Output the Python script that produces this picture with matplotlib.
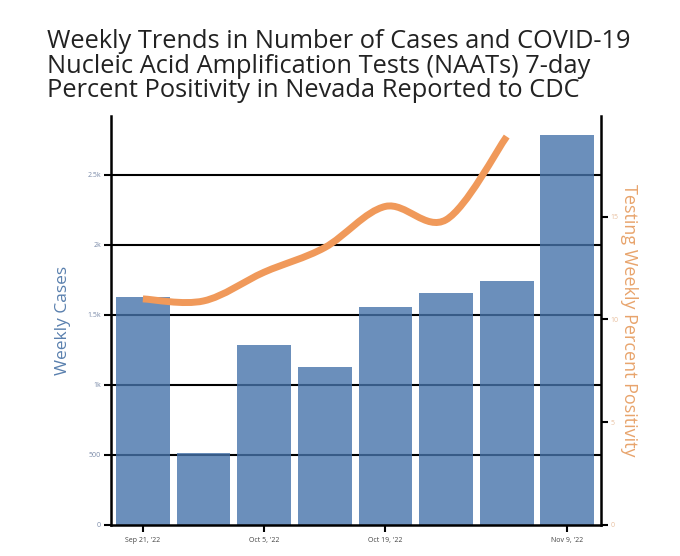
import matplotlib.pyplot as plt
import matplotlib.dates as mdates
from matplotlib.path import Path
from matplotlib.patches import PathPatch
import numpy as np
import pandas as pd

weeks = ['2022-09-21', '2022-09-28', '2022-10-05', '2022-10-12',
         '2022-10-19', '2022-10-26', '2022-11-02', '2022-11-09']
cases = [1630, 515, 1286, 1130, 1557, 1657, 1743, 2786]
pos_weeks = weeks[:7]
positivity = [11.0, 10.9, 12.3, 13.5, 15.5, 14.85, 18.9]

case_ticks = [0, 500, 1000, 1500, 2000, 2500]
case_tick_labels = ['0', '500', '1k', '1.5k', '2k', '2.5k']
pos_ticks = [0, 5, 10, 15]
date_ticks = ['2022-09-21', '2022-10-05', '2022-10-19', '2022-11-09']
date_tick_labels = ["Sep 21, '22", "Oct 5, '22", "Oct 19, '22", "Nov 9, '22"]

plt.rcParams['font.family'] = ['Open Sans', 'DejaVu Sans']

bar_color = '#4673AA'
line_color = '#F0995A'
case_label_color = '#5A80AE'
pos_label_color = '#E8A46C'

x = mdates.date2num(pd.to_datetime(weeks))
xp = mdates.date2num(pd.to_datetime(pos_weeks))

fig = plt.figure(figsize=(6.8, 5.56), dpi=100)
ax1 = fig.add_axes([0.163, 0.0558, 0.721, 0.7356])

for t in case_ticks[1:]:
    ax1.axhline(t, color='black', lw=1.5, zorder=0)
ax1.bar(x, cases, width=6.2, color=bar_color, alpha=0.8, zorder=1)

ax1.set_xlim(x[0] - 3.7, x[-1] + 3.9)
ax1.set_ylim(0, 2920)
ax1.set_yticks(case_ticks)
ax1.set_yticklabels(case_tick_labels)
ax1.set_xticks(mdates.date2num(pd.to_datetime(date_ticks)))
ax1.set_xticklabels(date_tick_labels)
ax1.tick_params(axis='y', labelsize=5, labelcolor='#7a8aa8', length=5, width=1.5, pad=2)
ax1.tick_params(axis='x', labelsize=5, labelcolor='#444444', length=5, width=1.5, pad=4)
ax1.set_ylabel('Weekly Cases', color=case_label_color, fontsize=12.5, labelpad=12)
for s in ['top', 'right']:
    ax1.spines[s].set_visible(False)
for s in ['left', 'bottom']:
    ax1.spines[s].set_linewidth(1.8)

ax2 = ax1.twinx()
ax2.set_ylim(0, 19.9)
ax2.set_yticks(pos_ticks)
ax2.tick_params(axis='y', labelsize=5, labelcolor='#e8c0a0', length=5, width=1.5, pad=2)
ax2.set_ylabel('Testing Weekly Percent Positivity', color=pos_label_color,
               fontsize=13, rotation=270, labelpad=14)
for s in ['top', 'left', 'bottom']:
    ax2.spines[s].set_visible(False)
ax2.spines['right'].set_linewidth(1.8)

# smooth spline through the weekly points (Catmull-Rom as cubic Bezier)
pts = np.column_stack([xp, positivity])
verts = [tuple(pts[0])]
codes = [Path.MOVETO]
for i in range(len(pts) - 1):
    p0 = pts[max(i - 1, 0)]
    p1 = pts[i]
    p2 = pts[i + 1]
    p3 = pts[min(i + 2, len(pts) - 1)]
    c1 = p1 + (p2 - p0) / 6
    c2 = p2 - (p3 - p1) / 6
    verts += [tuple(c1), tuple(c2), tuple(p2)]
    codes += [Path.CURVE4] * 3
ax2.add_patch(PathPatch(Path(verts, codes), facecolor='none',
                        edgecolor=line_color, lw=5, capstyle='butt', zorder=3))

fig.text(0.069, 0.948, 'Weekly Trends in Number of Cases and COVID-19\n'
         'Nucleic Acid Amplification Tests (NAATs) 7-day\n'
         'Percent Positivity in Nevada Reported to CDC',
         fontsize=18.3, color='#222222', va='top', ha='left', linespacing=0.98)

fig.savefig('out.png', dpi=100)
